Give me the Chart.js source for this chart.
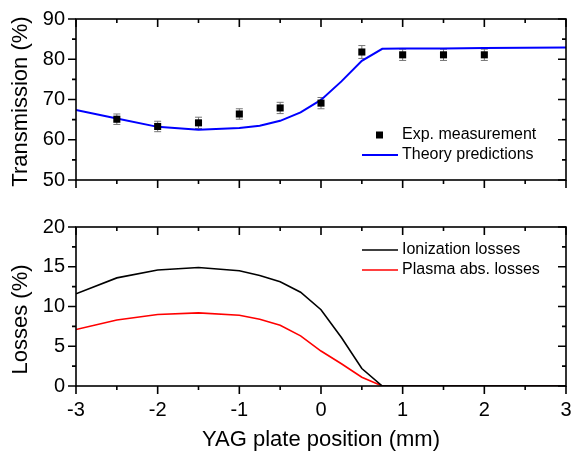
<!DOCTYPE html>
<html lang="en">
<head>
<meta charset="UTF-8">
<title>Transmission and losses vs YAG plate position</title>
<script src="https://cdn.jsdelivr.net/npm/chart.js"></script>
<style>
  body { margin: 0; background: #fff; }
  .panel { position: absolute; left: 0; width: 571px; }
  #top { top: 0; height: 200px; }
  #bottom { top: 200px; height: 257px; }
</style>
</head>
<body>
<div class="panel" id="top"><canvas id="chartTop"></canvas></div>
<div class="panel" id="bottom"><canvas id="chartBottom"></canvas></div>
<script>
// measured transmission (%) with error bars
const expX = [-2.5, -2, -1.5, -1, -0.5, 0, 0.5, 1, 1.5, 2];
const expY = [65.1, 63.3, 64.2, 66.4, 67.9, 69.1, 81.8, 81.1, 81.1, 81.1];
const expErr = [1.3, 1.3, 1.4, 1.3, 1.4, 1.4, 1.6, 1.4, 1.4, 1.4];

// model curves
const modelX = [-3, -2.5, -2, -1.5, -1, -0.75, -0.5, -0.25, 0, 0.25, 0.5, 0.75, 1, 1.5, 2, 2.5, 3];
const theoryY = [67.4, 65.3, 63.2, 62.5, 62.9, 63.5, 64.7, 66.8, 69.9, 74.5, 79.6, 82.6, 82.65, 82.7, 82.8, 82.85, 82.9];
const ionLoss = [11.6, 13.6, 14.6, 14.9, 14.5, 13.9, 13.1, 11.8, 9.6, 6.1, 2.2, 0, 0, 0, 0, 0, 0];
const plasmaLoss = [7.1, 8.3, 9.0, 9.2, 8.9, 8.4, 7.65, 6.3, 4.4, 2.8, 1.1, 0, 0, 0, 0, 0, 0];

const xTicks = [-3, -2, -1, 0, 1, 2, 3];

const FONT = "'Liberation Sans', Arial, sans-serif";
Chart.defaults.font.family = FONT;
Chart.defaults.color = '#000';

function pts(xs, ys) {
    return xs.map((x, i) => ({ x: x, y: ys[i] }));
}
function mids(v) {
    return v.slice(1).map((b, i) => (v[i] + b) / 2);
}

// box around the plot, ticks out on bottom/left, in on top/right
const framePlugin = {
    id: 'frame',
    afterDraw(chart) {
        const ctx = chart.ctx, a = chart.chartArea;
        const xs = chart.scales.x, ys = chart.scales.y;
        const yv = ys.ticks.map(t => t.value);
        ctx.save();
        ctx.strokeStyle = '#000';
        ctx.lineWidth = 1.6;
        ctx.strokeRect(a.left, a.top, a.right - a.left, a.bottom - a.top);
        ctx.beginPath();
        const xMarks = (vals, len) => vals.forEach(v => {
            const p = xs.getPixelForValue(v);
            ctx.moveTo(p, a.bottom); ctx.lineTo(p, a.bottom + len);
            ctx.moveTo(p, a.top); ctx.lineTo(p, a.top + len);
        });
        const yMarks = (vals, len) => vals.forEach(v => {
            const p = ys.getPixelForValue(v);
            ctx.moveTo(a.left, p); ctx.lineTo(a.left - len, p);
            ctx.moveTo(a.right, p); ctx.lineTo(a.right - len, p);
        });
        xMarks(xTicks, 8);
        xMarks(mids(xTicks), 4);
        yMarks(yv, 8);
        yMarks(mids(yv), 4);
        ctx.stroke();
        ctx.restore();
    }
};

// rotated y title, centred on the axis plus a small shift
const yTitlePlugin = {
    id: 'yTitle',
    afterDraw(chart, args, opts) {
        const ctx = chart.ctx, a = chart.chartArea;
        ctx.save();
        ctx.font = '22px ' + FONT;
        ctx.fillStyle = '#000';
        ctx.textAlign = 'center';
        ctx.textBaseline = 'middle';
        ctx.translate(opts.x, (a.top + a.bottom) / 2 + opts.shift);
        ctx.rotate(-Math.PI / 2);
        ctx.fillText(opts.text, 0, 0);
        ctx.restore();
    }
};

const errorBarPlugin = {
    id: 'errorBars',
    beforeDatasetsDraw(chart) {
        const ctx = chart.ctx, xs = chart.scales.x, ys = chart.scales.y;
        ctx.save();
        ctx.strokeStyle = '#777';
        ctx.lineWidth = 1;
        ctx.beginPath();
        expX.forEach((v, i) => {
            const p = xs.getPixelForValue(v);
            const t = ys.getPixelForValue(expY[i] + expErr[i]);
            const b = ys.getPixelForValue(expY[i] - expErr[i]);
            ctx.moveTo(p, t); ctx.lineTo(p, b);
            ctx.moveTo(p - 3.5, t); ctx.lineTo(p + 3.5, t);
            ctx.moveTo(p - 3.5, b); ctx.lineTo(p + 3.5, b);
        });
        ctx.stroke();
        ctx.restore();
    }
};

const legendPlugin = {
    id: 'sideLegend',
    afterDraw(chart, args, opts) {
        const ctx = chart.ctx;
        ctx.save();
        ctx.font = '16px ' + FONT;
        ctx.textBaseline = 'middle';
        chart.data.datasets.forEach((ds, i) => {
            const y = opts.rows[i];
            if (ds.showLine === false) {
                ctx.fillStyle = ds.backgroundColor;
                ctx.fillRect(opts.x + 14, y - 3.5, 7, 7);
            } else {
                ctx.strokeStyle = ds.borderColor;
                ctx.lineWidth = ds.borderWidth;
                ctx.beginPath();
                ctx.moveTo(opts.x, y);
                ctx.lineTo(opts.x + 36, y);
                ctx.stroke();
            }
            ctx.fillStyle = '#000';
            ctx.fillText(ds.label, opts.x + 40, y);
        });
        ctx.restore();
    }
};

const yTicks = (step) => ({ stepSize: step, padding: 11, font: { size: 20 } });
const noGrid = { display: false, drawTicks: false, tickLength: 0 };
function fixY(s) {
    s.width = 76;
    s.paddingTop = 0;
    s.paddingBottom = 0;
}

new Chart(document.getElementById('chartTop'), {
    type: 'scatter',
    data: {
        datasets: [{
            label: 'Exp. measurement',
            data: pts(expX, expY),
            showLine: false,
            pointStyle: 'rect',
            pointRadius: 5,
            backgroundColor: '#000',
            borderColor: '#000',
            borderWidth: 0
        }, {
            label: 'Theory predictions',
            data: pts(modelX, theoryY),
            showLine: true,
            borderColor: '#0000ff',
            borderWidth: 2,
            pointRadius: 0
        }]
    },
    options: {
        responsive: true,
        maintainAspectRatio: false,
        animation: false,
        layout: { padding: { top: 19, right: 5, bottom: 20, left: 0 } },
        plugins: {
            legend: { display: false },
            tooltip: { enabled: false },
            sideLegend: { x: 362, rows: [135, 155] },
            yTitle: { text: 'Transmission (%)', x: 21, shift: 2 }
        },
        scales: {
            x: { type: 'linear', display: false, min: -3, max: 3 },
            y: {
                min: 50, max: 90,
                ticks: yTicks(10),
                grid: noGrid,
                border: { display: false },
                afterFit: fixY
            }
        }
    },
    plugins: [errorBarPlugin, framePlugin, legendPlugin, yTitlePlugin]
});

new Chart(document.getElementById('chartBottom'), {
    type: 'scatter',
    data: {
        datasets: [{
            label: 'Ionization losses',
            data: pts(modelX, ionLoss),
            showLine: true,
            borderColor: '#000',
            borderWidth: 1.6,
            pointRadius: 0
        }, {
            label: 'Plasma abs. losses',
            data: pts(modelX, plasmaLoss),
            showLine: true,
            borderColor: '#ff0000',
            borderWidth: 1.6,
            pointRadius: 0
        }]
    },
    options: {
        responsive: true,
        maintainAspectRatio: false,
        animation: false,
        layout: { padding: { top: 27, right: 5, bottom: 0, left: 0 } },
        plugins: {
            legend: { display: false },
            tooltip: { enabled: false },
            sideLegend: { x: 362, rows: [50, 70] },
            yTitle: { text: 'Losses (%)', x: 21, shift: 13 }
        },
        scales: {
            x: {
                type: 'linear', min: -3, max: 3,
                ticks: { stepSize: 1, padding: 12, font: { size: 20 } },
                grid: noGrid,
                border: { display: false },
                title: { display: true, text: 'YAG plate position (mm)', font: { size: 22 }, padding: { top: 0, bottom: 4 } },
                afterFit(s) {
                    s.height = 71;
                    s.paddingLeft = 0;
                    s.paddingRight = 0;
                }
            },
            y: {
                min: 0, max: 20,
                ticks: yTicks(5),
                grid: noGrid,
                border: { display: false },
                afterFit: fixY
            }
        }
    },
    plugins: [framePlugin, legendPlugin, yTitlePlugin]
});
</script>
</body>
</html>
